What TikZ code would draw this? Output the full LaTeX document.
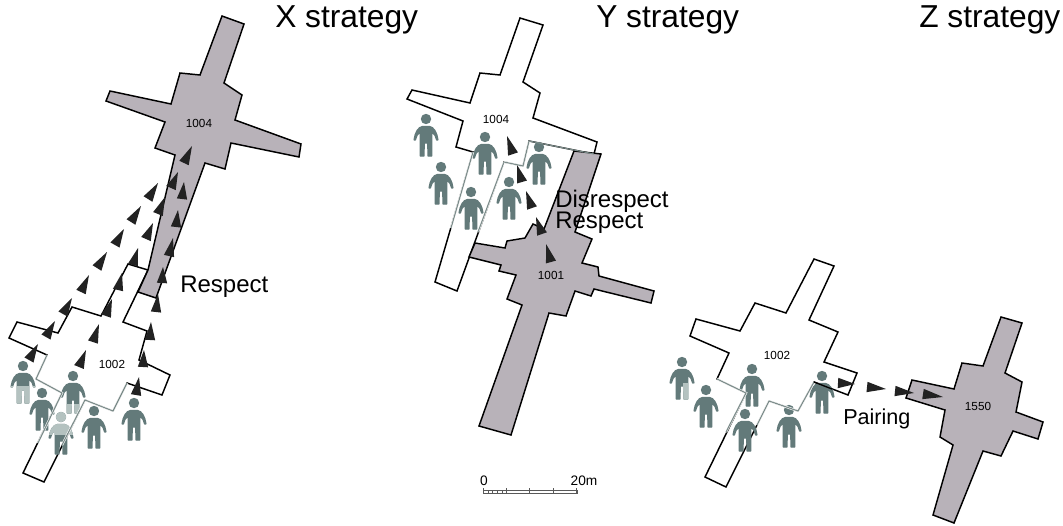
\documentclass[tikz,border=0pt]{standalone}
\usepackage{fontspec}
\setmainfont{Liberation Sans}
\usetikzlibrary{calc}
\definecolor{blockgrey}{HTML}{B8B2B9}
\definecolor{personcol}{HTML}{637A7A}
\definecolor{personlight}{HTML}{B4C2C0}
\definecolor{softline}{HTML}{7C8C8A}
\definecolor{darktri}{HTML}{222222}
\tikzset{
  wall/.style={draw=black,line width=1.1pt,line join=miter,fill=white},
  greyblock/.style={wall,fill=blockgrey},
  softwall/.style={draw=softline,line width=.85pt},
  softunder/.style={draw=white,line width=1.7pt},
  titletext/.style={anchor=base west,font=\fontsize{23.8}{26}\selectfont,inner sep=0pt,text=black},
  labeltext/.style={anchor=base west,font=\fontsize{18}{20}\selectfont,inner sep=0pt,text=black},
  numtext/.style={font=\fontsize{8.8}{10}\selectfont,inner sep=0pt,text=black},
  scaletext/.style={font=\fontsize{10.3}{12}\selectfont,inner sep=0pt,text=black},
  scaleline/.style={draw=black!65,line width=.5pt},
}
\newcommand{\personfig}[3]{%
  \begin{scope}[shift={(#1,#2)}]
    \fill[#3] (0,0) circle[radius=5.2];
    \fill[#3,draw=#3,line width=1.1pt,line join=round]
      (-3.5,7.6) -- (3.5,7.6) .. controls (7.5,8) and (11,13.5) .. (11.8,20.8)
      -- (10.8,21) .. controls (10.2,17.5) and (8.5,14.5) .. (5.6,12.5)
      -- (5.6,23) -- (5.6,37) -- (2.2,37) -- (1.8,24) -- (-1.8,24) -- (-2.2,37) -- (-5.6,37) -- (-5.6,23)
      -- (-5.6,12.5) .. controls (-8.5,14.5) and (-10.2,17.5) .. (-10.8,21)
      -- (-11.8,20.8) .. controls (-11,13.5) and (-7.5,8) .. (-3.5,7.6) -- cycle;
  \end{scope}}
\newcommand{\personp}[2]{\personfig{#1}{#2}{personcol}}
\newcommand{\lightpart}[6]{% x y clip rectangle
  \begin{scope}\clip (#3,#4) rectangle (#5,#6);\personfig{#1}{#2}{personlight}\end{scope}}
\newcommand{\tri}[4]{%
  \fill[darktri] (#1,#2) -- ($(#3,#4)!3.9pt!90:(#1,#2)$) -- ($(#3,#4)!3.9pt!-90:(#1,#2)$) -- cycle;}
\begin{document}
\begin{tikzpicture}[x=0.75pt,y=-0.75pt]
\useasboundingbox (0,0) rectangle (1063,525);
\fill[white] (0,0) rectangle (1063,525);

% ---------- X strategy ----------
\path[wall] (128,264) -- (148,270) -- (123,322) -- (147,331) -- (139,360) -- (170,375) -- (162,395)
  -- (127,383) -- (113,411) -- (85,400) -- (44,482) -- (23,473) -- (62,393) -- (36,379) -- (47,355)
  -- (9,338) -- (17,322) -- (58,333) -- (72,307) -- (101,316) -- cycle;
\path[greyblock] (222,16) -- (244,24) -- (224,83) -- (242,95) -- (235,120) -- (301,144) -- (299,157)
  -- (231,143) -- (225,169) -- (205,163) -- (156,298) -- (138,292) -- (148,270) -- (175,155)
  -- (155,148) -- (165,122) -- (106,101) -- (110,91) -- (171,104) -- (180,73) -- (200,75) -- cycle;
\personp{23}{366}\personp{42}{393}\personp{73}{376}\personp{61}{417}\personp{94}{411}\personp{134}{403}
\lightpart{23}{366}{8}{386}{40}{406}
\lightpart{73}{376}{58}{404}{90}{416}
\lightpart{61}{417}{45}{410}{78}{434}
\draw[softunder] (47,355) -- (36,379) -- (62,393) -- (38,443);
\draw[softwall] (47,355) -- (36,379) -- (62,393) -- (38,443);
\draw[softunder] (62,445) -- (85,400) -- (113,411) -- (127,383);
\draw[softwall] (62,445) -- (85,400) -- (113,411) -- (127,383);

\tri{192}{146}{184}{163}\tri{178}{172}{171}{188}\tri{158}{183}{148}{199}\tri{184}{182}{182}{199}
\tri{165}{197}{158}{214}\tri{141}{206}{131}{222}\tri{178}{210}{176}{227}\tri{153}{223}{146}{239}
\tri{124}{229}{115}{245}\tri{173}{238}{169}{256}\tri{138}{248}{133}{265}\tri{107}{252}{97}{268}
\tri{163}{267}{162}{283}\tri{89}{275}{81}{292}\tri{122}{273}{118}{290}\tri{158}{294}{156}{312}
\tri{72}{298}{63}{314}\tri{112}{299}{106}{316}\tri{55}{321}{46}{337}\tri{99}{324}{93}{342}
\tri{151}{322}{150}{340}\tri{38}{344}{29}{360}\tri{86}{350}{79}{367}\tri{144}{350}{143}{367}
\tri{139}{377}{136}{395}

\node[numtext] (n1004x) at (199,123) {1004};
\node[numtext] (n1002x) at (112,364) {1002};
\node[titletext] (xtitle) at (275,27) {X strategy};
\node[labeltext] (xrespect) at (180,292) {Respect};

% ---------- Y strategy ----------
\path[wall] (520,18) -- (543,25) -- (523,82) -- (540,93) -- (533,118) -- (597,142) -- (594,154)
  -- (529,141) -- (523,166) -- (504,162) -- (457,291) -- (435,282) -- (473,152) -- (456,147)
  -- (463,121) -- (407,99) -- (412,90) -- (470,103) -- (480,73) -- (500,75) -- cycle;
\path[greyblock] (574,151) -- (601,154) -- (575,232) -- (592,239) -- (582,263) -- (598,267) -- (599,276)
  -- (654,291) -- (651,303) -- (594,289) -- (591,296) -- (575,291) -- (566,316) -- (549,313)
  -- (511,435) -- (479,426) -- (522,305) -- (507,299) -- (516,275) -- (499,271) -- (501,265)
  -- (469,257) -- (475,243) -- (505,248) -- (507,241) -- (525,238) -- (533,224) -- (544,229) -- cycle;
\personp{426}{119}\personp{485}{137}\personp{539}{147}\personp{441}{167}\personp{509}{182}\personp{471}{192}
\draw[softunder] (473,152) -- (451,228);
\draw[softwall] (473,152) -- (451,228);
\draw[softunder] (504,162) -- (478,232);
\draw[softwall] (504,162) -- (478,232);
\draw[softunder] (529,141) -- (523,166) -- (504,162);
\draw[softwall] (594,154) -- (529,141) -- (523,166) -- (504,162);

\tri{507}{136}{513}{154}\tri{517}{165}{522}{182}\tri{526}{191}{532}{208}\tri{536}{217}{542}{234}\tri{546}{244}{551}{262}

\node[numtext] (n1004y) at (496,119) {1004};
\node[numtext] (n1001y) at (551,275) {1001};
\node[titletext] (ytitle) at (596,27) {Y strategy};
\node[labeltext] (ydisrespect) at (555,207) {Disrespect};
\node[labeltext] (yrespect) at (555,228) {Respect};

% ---------- scale bar ----------
\draw[scaleline] (483,490) -- (577,490) -- (577,493) -- (483,493) -- cycle;
\foreach \tx in {483.3,506.7,529.3,553.3,576.7} {\draw[scaleline] (\tx,488) -- (\tx,493);}
\foreach \tx in {488,492.7,497.4,502} {\draw[scaleline] (\tx,490) -- (\tx,493);}
\node[scaletext] (scale0) at (484,481) {0};
\node[scaletext] (scale20) at (584,481) {20m};

% ---------- Z strategy ----------
\path[wall] (814,259) -- (834,266) -- (809,320) -- (838,332) -- (824,362) -- (857,373) -- (848,395)
  -- (814,382) -- (798,411) -- (769,401) -- (726,487) -- (705,477) -- (746,393) -- (717,379)
  -- (729,353) -- (690,336) -- (696,319) -- (740,331) -- (755,303) -- (786,313) -- cycle;
\path[greyblock] (1001,317) -- (1022,323) -- (1005,373) -- (1022,382) -- (1016,412) -- (1043,422)
  -- (1038,439) -- (1013,431) -- (1001,456) -- (983,451) -- (954,523) -- (933,515) -- (953,445)
  -- (940,437) -- (945,410) -- (906,398) -- (912,380) -- (954,389) -- (962,363) -- (983,366) -- cycle;
\personp{682}{362}\personp{752}{369}\personp{822}{376}\personp{706}{390}\personp{745}{414}\personp{789}{410}
\lightpart{682}{362}{683}{383}{695}{402}
\draw[softunder] (717,379) -- (746,393) -- (726,432);
\draw[softwall] (717,379) -- (746,393) -- (726,432);
\draw[softunder] (757,425) -- (769,401) -- (798,411) -- (814,382);
\draw[softwall] (757,425) -- (769,401) -- (798,411) -- (814,382);
\draw[black,line width=1pt] (814,382) -- (832,389);

\tri{855}{384}{838}{383}\tri{886}{389}{867}{387}\tri{914}{393}{895}{391}\tri{943}{397}{923}{394}

\node[numtext] (n1002z) at (777,355) {1002};
\node[numtext] (n1550z) at (978,406) {1550};
\node[titletext] (ztitle) at (919,27) {Z strategy};
\node[labeltext,font=\fontsize{16.2}{18}\selectfont] (zpairing) at (843,424) {Pairing};
\end{tikzpicture}
\end{document}
